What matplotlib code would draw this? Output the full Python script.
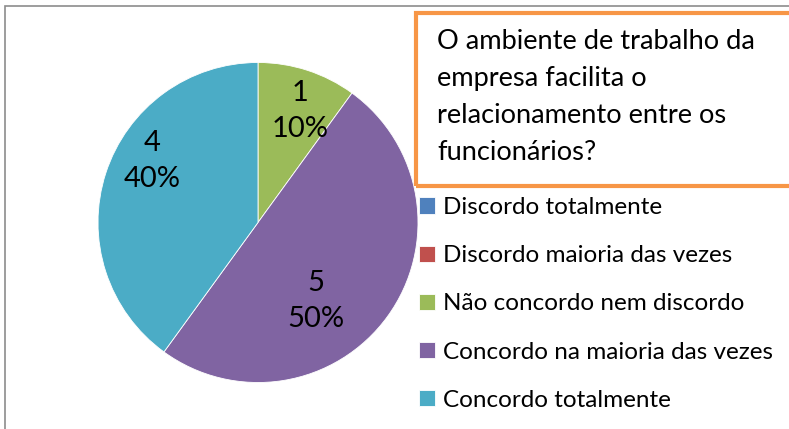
import matplotlib.pyplot as plt
from matplotlib.patches import Rectangle

categorias = ['Discordo totalmente', 'Discordo maioria das vezes',
              'Não concordo nem discordo', 'Concordo na maioria das vezes',
              'Concordo totalmente']
respostas = [0, 0, 1, 5, 4]
cores = ['#4F81BD', '#C0504D', '#9BBB59', '#8064A2', '#4BACC6']
titulo = 'O ambiente de trabalho da\nempresa facilita o\nrelacionamento entre os\nfuncionários?'

plt.rcParams['font.family'] = ['Lato', 'DejaVu Sans']

W, H = 789, 429
fig = plt.figure(figsize=(W / 100, H / 100), dpi=100)

# moldura do grafico (cortada na direita e embaixo)
fig.patches.append(Rectangle((5 / W, -0.1), 1.1, 1 - 6 / H + 0.1, transform=fig.transFigure,
                             fill=False, edgecolor='#8c8c8c', linewidth=1.2))

# pizza: centro (258, 222), raio 160 px
cx, cy, r = 258, 222.5, 160
ax = fig.add_axes([(cx - r) / W, (H - cy - r) / H, 2 * r / W, 2 * r / H])
total = sum(respostas)


def rotulo(pct):
    v = int(round(pct * total / 100))
    return '' if v == 0 else f'{v}\n{pct:.0f}%'


wedges, texts, autotexts = ax.pie(respostas, colors=cores, startangle=90, counterclock=False,
                                  autopct=rotulo, pctdistance=0.72, radius=1,
                                  wedgeprops=dict(edgecolor='white', linewidth=0.6),
                                  textprops=dict(fontsize=21, color='black', linespacing=1.45))
ax.set_xlim(-1, 1)
ax.set_ylim(-1, 1)

# posicoes dos rotulos como no Excel (melhor ajuste)
posicoes = {2: (300, 111), 3: (316, 301), 4: (152, 161)}
for i, (px, py) in posicoes.items():
    autotexts[i].set_position(((px - cx) / r, (cy - py) / r))

# caixa do titulo
fig.patches.append(Rectangle((416 / W, 1 - 186 / H), 1.0, (186 - 13) / H, transform=fig.transFigure,
                             fill=False, edgecolor='#F79646', linewidth=3))
fig.text(437 / W, 1 - 29 / H, titulo, fontsize=19.6, va='top', ha='left', linespacing=1.6)

leg = fig.legend(wedges, categorias, loc='upper left', bbox_to_anchor=(419 / W, 1 - 197 / H),
                 frameon=False, fontsize=17.5, handlelength=0.65, handleheight=0.65,
                 handletextpad=0.35, labelspacing=1.12, borderaxespad=0, borderpad=0)

fig.savefig('out.png', dpi=100)
